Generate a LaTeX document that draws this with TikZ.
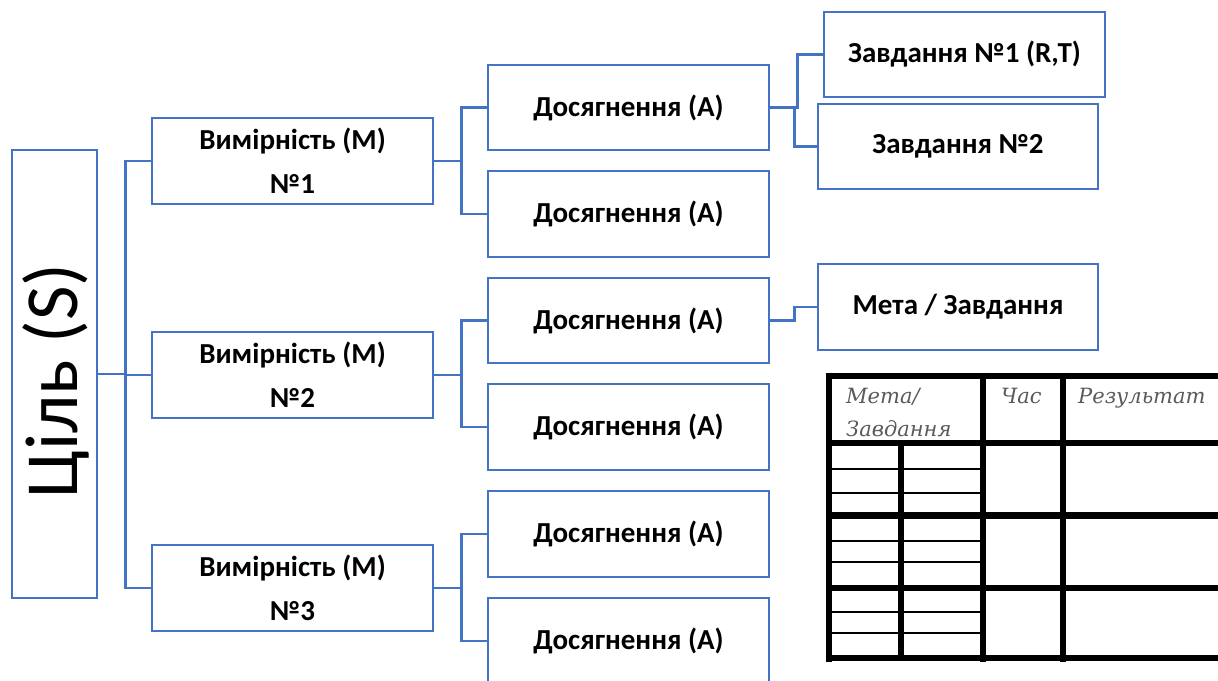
\documentclass[tikz,border=0pt]{standalone}
\usepackage{fontspec}
\setmainfont{Carlito}
\newfontfamily\tabfont{DejaVu Serif}
\usetikzlibrary{calc}
\definecolor{boxblue}{HTML}{4472C4}
\definecolor{tabgray}{HTML}{5A5A5A}
\tikzset{
  bx/.style={draw=boxblue, line width=2.5pt, fill=white, inner sep=0pt, align=center,
    font=\bfseries\fontsize{29}{44}\selectfont},
  ln/.style={draw=boxblue, line width=2.5pt},
  thk/.style={draw=black, line width=6.5pt},
  thn/.style={draw=black, line width=2pt},
  ht/.style={anchor=base west, inner sep=0pt, text=tabgray, font=\tabfont\itshape\fontsize{21}{22}\selectfont},
}
\begin{document}
\begin{tikzpicture}[x=1pt,y=-1pt]
\useasboundingbox (0,0) rectangle (1218,680);
\clip (0,0) rectangle (1218,680);
\fill[white] (0,0) rectangle (1218,680);

% boxes
\node[bx, minimum width=85, minimum height=448] (S) at (54.5,374) {};
\node[rotate=90, inner sep=0pt, font=\fontsize{75}{80}\selectfont] (St) at (56,381) {Ціль (S)};

\node[bx, minimum width=281, minimum height=86] (M1) at (292.5,161) {Вимірність (M)\\№1};
\node[bx, minimum width=281, minimum height=86] (M2) at (292.5,375) {Вимірність (M)\\№2};
\node[bx, minimum width=281, minimum height=86] (M3) at (292.5,588) {Вимірність (M)\\№3};

\node[bx, minimum width=281, minimum height=85] (D1) at (628.5,107.5) {Досягнення (А)};
\node[bx, minimum width=281, minimum height=86] (D2) at (628.5,214) {Досягнення (А)};
\node[bx, minimum width=281, minimum height=85] (D3) at (628.5,320.5) {Досягнення (А)};
\node[bx, minimum width=281, minimum height=86] (D4) at (628.5,427) {Досягнення (А)};
\node[bx, minimum width=281, minimum height=86] (D5) at (628.5,534) {Досягнення (А)};
\node[bx, minimum width=281, minimum height=86] (D6) at (628.5,641) {Досягнення (А)};

\node[bx, minimum width=281, minimum height=85] (Z1) at (964.5,54.5) {Завдання №1 (R,T)};
\node[bx, minimum width=280, minimum height=85] (Z2) at (958,146.5) {Завдання №2};
\node[bx, minimum width=280, minimum height=86] (Mt) at (958,307) {Мета / Завдання};

% connectors
\coordinate (sj) at ($(S.east)+(27,0)$);
\draw[ln] (S.east) -- (sj);
\draw[ln] (sj) |- (M1.west);
\draw[ln] (sj) |- (M2.west);
\draw[ln] (sj) |- (M3.west);

\coordinate (m1j) at ($(M1.east)+(27,0)$);
\draw[ln] (M1.east) -- (m1j);
\draw[ln] (m1j) |- (D1.west);
\draw[ln] (m1j) |- (D2.west);
\coordinate (m2j) at ($(M2.east)+(27,0)$);
\draw[ln] (M2.east) -- (m2j);
\draw[ln] (m2j) |- (D3.west);
\draw[ln] (m2j) |- (D4.west);
\coordinate (m3j) at ($(M3.east)+(27,0)$);
\draw[ln] (M3.east) -- (m3j);
\draw[ln] (m3j) |- (D5.west);
\draw[ln] (m3j) |- (D6.west);

\coordinate (d1a) at ($(D1.east)+(27,0)$);
\coordinate (d1b) at ($(D1.east)+(24,0)$);
\draw[ln] (D1.east) -- (d1a) |- (Z1.west);
\draw[ln] (d1b) |- (Z2.west);
\coordinate (d3a) at ($(D3.east)+(24,0)$);
\draw[ln] (D3.east) -- (d3a) |- (Mt.west);

% table
\foreach \y in {376,443,515.5,588,658} \draw[thk] (826,\y) -- (1230,\y);
\foreach \x in {829,983,1063} \draw[thk] (\x,372.5) -- (\x,661.5);
\draw[thk] (901,443) -- (901,658);
\foreach \y in {469,493,541,562,612,633} \draw[thn] (829,\y) -- (983,\y);

\node[ht] (h1) at (846,403) {Мета/};
\node[ht] (h2) at (846,436) {Завдання};
\node[ht] (h3) at (1001,403) {Час};
\node[ht] (h4) at (1078,403) {Результат};
\end{tikzpicture}
\end{document}
